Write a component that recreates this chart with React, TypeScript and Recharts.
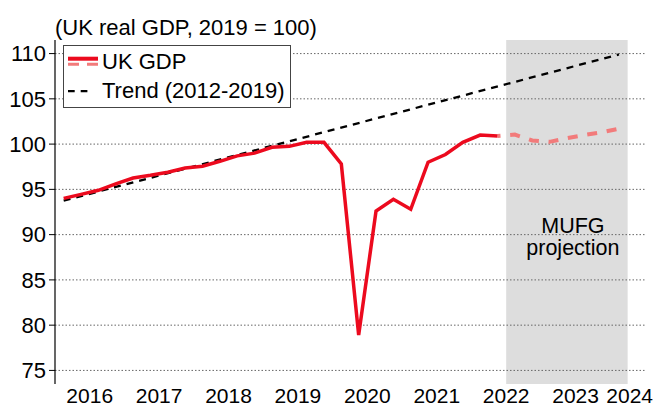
import React from 'react';
import { LineChart, Line, XAxis, YAxis, ReferenceArea, ReferenceLine, Legend } from 'recharts';

const actualQuarters = [
  '2016Q1', '2016Q2', '2016Q3', '2016Q4',
  '2017Q1', '2017Q2', '2017Q3', '2017Q4',
  '2018Q1', '2018Q2', '2018Q3', '2018Q4',
  '2019Q1', '2019Q2', '2019Q3', '2019Q4',
  '2020Q1', '2020Q2', '2020Q3', '2020Q4',
  '2021Q1', '2021Q2', '2021Q3', '2021Q4',
  '2022Q1', '2022Q2',
];
const actualGdp = [
  94.0, 94.45, 94.9, 95.6,
  96.25, 96.55, 96.9, 97.35,
  97.55, 98.1, 98.7, 99.0,
  99.65, 99.75, 100.2, 100.2,
  97.8, 78.9, 92.6, 93.9,
  92.8, 98.0, 98.85, 100.2,
  101.0, 100.9,
];
const projectionQuarters = ['2022Q2', '2022Q3', '2022Q4', '2023Q1', '2023Q2', '2023Q3', '2023Q4', '2024Q1'];
const projectionGdp = [100.9, 101.05, 100.4, 100.25, 100.65, 101.0, 101.3, 101.7];
const trendQuarters = ['2016Q1', '2024Q1'];
const trendValues = [93.75, 109.9];

const yTicks = [75, 80, 85, 90, 95, 100, 105, 110];
const yDomain = [73.5, 111.5];
const yearTicks = [2017, 2018, 2019, 2020, 2021, 2022, 2023, 2024];
const yearLabels = [2016, 2017, 2018, 2019, 2020, 2021, 2022, 2023, 2024];
const xDomain = [2016, 2024.5];
const projectionStart = 2022.5;
const projectionEnd = 2024.25;

const RED = '#ec0a1e';
const PINK = '#f27b7b';
const FONT = '"Liberation Sans", Arial, sans-serif';
const FS = 22;

const qx = (label: string) => {
  const year = parseInt(label.slice(0, 4), 10);
  const q = parseInt(label.slice(5), 10);
  return year + (q - 0.5) / 4;
};
const toPoints = (labels: string[], values: number[]) => labels.map((l, i) => ({ x: qx(l), v: values[i] }));

const actualData = toPoints(actualQuarters, actualGdp);
const projectionData = toPoints(projectionQuarters, projectionGdp);
const trendData = toPoints(trendQuarters, trendValues);
const labelPositions = yearLabels.map((y) => y + 0.5);

const YearTick = (props: any) => {
  const { x, y, payload, index, visibleTicksCount } = props;
  const last = index === (visibleTicksCount ?? labelPositions.length) - 1;
  return (
    <text
      x={last ? x + 8 : x}
      y={y}
      dy="0.71em"
      textAnchor={last ? 'end' : 'middle'}
      fill="#000"
      fontSize={21}
      fontFamily={FONT}
    >
      {Math.floor(payload.value)}
    </text>
  );
};

const LegendBox = () => (
  <div
    style={{
      position: 'relative',
      width: 228,
      height: 63,
      boxSizing: 'border-box',
      border: '1px solid #444',
      background: '#fff',
      fontFamily: FONT,
      fontSize: FS,
      color: '#000',
    }}
  >
    <svg width={40} height={60} style={{ position: 'absolute', left: 0, top: 0 }}>
      <line x1={4} x2={34} y1={12.7} y2={12.7} stroke={RED} strokeWidth={4} />
      <line x1={4} x2={35} y1={18.2} y2={18.2} stroke={PINK} strokeWidth={3} strokeDasharray="11 8" />
      <line x1={4} x2={25} y1={45.2} y2={45.2} stroke="#000" strokeWidth={2.3} strokeDasharray="6.7 6" />
    </svg>
    <span style={{ position: 'absolute', left: 38, top: 5.4, lineHeight: '22px', whiteSpace: 'nowrap' }}>UK GDP</span>
    <span style={{ position: 'absolute', left: 38, top: 34.4, lineHeight: '22px', whiteSpace: 'nowrap' }}>
      Trend (2012-2019)
    </span>
  </div>
);

const ProjectionLabel = (props: any) => {
  const vb = props.viewBox || {};
  const cx = vb.x + vb.width / 2 + 6;
  const y0 = vb.y + vb.height * 0.56;
  return (
    <text x={cx} y={y0} textAnchor="middle" fill="#000" fontSize={21.5} fontFamily={FONT}>
      <tspan x={cx} y={y0}>MUFG</tspan>
      <tspan x={cx} y={y0 + 22}>projection</tspan>
    </text>
  );
};

export default function App() {
  return (
    <div style={{ position: 'absolute', left: 0, top: 0, width: 659, height: 408, fontFamily: FONT, background: '#fff' }}>
      <div
        style={{
          position: 'absolute',
          left: 55,
          top: 16.5,
          fontSize: FS,
          lineHeight: '22px',
          whiteSpace: 'nowrap',
          color: '#000',
          fontFamily: FONT,
        }}
      >
        (UK real GDP, 2019 = 100)
      </div>
      <LineChart width={659} height={408} margin={{ top: 40, right: 14, bottom: 0, left: 0 }}>
        <ReferenceArea
          x1={projectionStart}
          x2={projectionEnd}
          y1={yDomain[0]}
          y2={yDomain[1]}
          fill="#dddddd"
          fillOpacity={1}
          stroke="none"
          label={(p: any) => <ProjectionLabel {...p} />}
        />
        {yTicks.map((t) => (
          <ReferenceLine key={t} y={t} stroke="#666" strokeDasharray="1.5 2" strokeWidth={1} />
        ))}
        <XAxis
          xAxisId={0}
          type="number"
          dataKey="x"
          domain={xDomain}
          ticks={yearTicks}
          allowDataOverflow
          height={0}
          mirror
          tick={false}
          tickSize={6}
          tickLine={{ stroke: '#000' }}
          axisLine={{ stroke: '#000', strokeWidth: 1.2 }}
        />
        <XAxis
          xAxisId="lbl"
          type="number"
          dataKey="x"
          domain={xDomain}
          ticks={labelPositions}
          allowDataOverflow
          height={24}
          tickSize={0}
          tickMargin={4}
          tickLine={false}
          axisLine={false}
          tick={<YearTick />}
          interval={0}
        />
        <XAxis
          xAxisId="top"
          orientation="top"
          type="number"
          dataKey="x"
          domain={xDomain}
          allowDataOverflow
          height={0}
          tick={false}
          tickLine={false}
          axisLine={{ stroke: '#000', strokeWidth: 1.2 }}
        />
        <YAxis
          type="number"
          domain={yDomain}
          ticks={yTicks}
          allowDataOverflow
          width={55}
          tickSize={6}
          tickMargin={3}
          interval={0}
          tick={{ fill: '#000', fontSize: FS, fontFamily: FONT }}
          tickLine={{ stroke: '#000' }}
          axisLine={{ stroke: '#000', strokeWidth: 1.2 }}
        />
        <YAxis
          yAxisId="r"
          orientation="right"
          type="number"
          domain={yDomain}
          allowDataOverflow
          width={0}
          tick={false}
          tickLine={false}
          axisLine={{ stroke: '#000', strokeWidth: 1.2 }}
        />
        <Legend
          content={() => <LegendBox />}
          layout="horizontal"
          verticalAlign="middle"
          align="center"
          wrapperStyle={{ position: 'absolute', left: 63, top: 45, width: 228, height: 63 }}
        />
        <Line
          data={trendData}
          dataKey="v"
          type="linear"
          stroke="#000"
          strokeWidth={2.3}
          strokeDasharray="7 6"
          dot={false}
          activeDot={false}
          isAnimationActive={false}
          name="Trend (2012-2019)"
        />
        <Line
          data={projectionData}
          dataKey="v"
          type="linear"
          stroke={PINK}
          strokeWidth={4}
          strokeDasharray="10 9.7"
          strokeDashoffset={7}
          dot={false}
          activeDot={false}
          isAnimationActive={false}
          name="Projection"
        />
        <Line
          data={actualData}
          dataKey="v"
          type="linear"
          stroke={RED}
          strokeWidth={3.5}
          dot={false}
          activeDot={false}
          isAnimationActive={false}
          name="UK GDP"
        />
      </LineChart>
    </div>
  );
}
